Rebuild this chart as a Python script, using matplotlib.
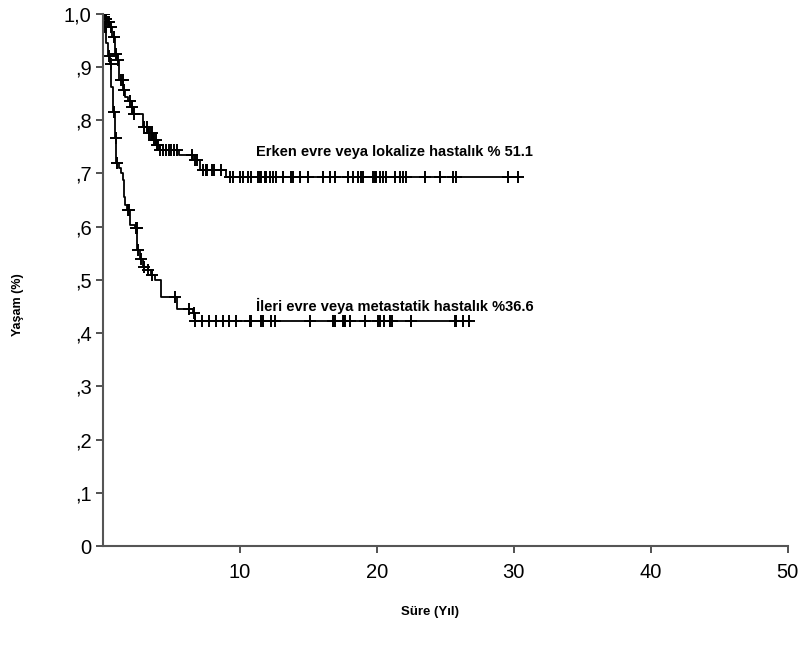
import numpy as np
import matplotlib
matplotlib.use("Agg")
import matplotlib.pyplot as plt

plt.rcParams['font.family'] = ['Liberation Sans', 'DejaVu Sans']

# Kaplan-Meier steps: early / localised disease
early_t = [0, 0.15, 0.3, 0.5, 0.7, 0.88, 1.04, 1.19, 1.48, 1.6, 1.85, 2.1, 2.2,
           2.95, 3.3, 3.67, 3.9, 4.16, 5.6, 6.6, 7.1, 9.0, 30.4]
early_s = [1.0, 0.99, 0.985, 0.975, 0.956, 0.925, 0.913, 0.875, 0.856, 0.844, 0.835,
           0.825, 0.812, 0.787, 0.775, 0.762, 0.753, 0.744, 0.734, 0.725, 0.706,
           0.694, 0.694]
early_cens = [0.05, 0.1, 0.2, 0.25, 0.35, 0.45, 0.6, 0.8, 0.95, 1.1, 1.3, 1.45,
              1.55, 2.0, 2.15, 2.3, 3.0, 3.25, 3.4, 3.5, 3.6, 3.75, 3.85, 3.95,
              4.05, 4.2, 4.4, 4.6, 4.8, 5.0, 5.2, 5.4, 6.5, 6.7, 6.9, 7.3, 7.5,
              7.6, 8.0, 8.1, 8.6,
              9.27, 9.51, 10.0, 10.24, 10.61, 10.85, 11.34, 11.46, 11.58, 11.82,
              11.95, 12.19, 12.43, 12.68, 13.16, 13.77, 13.89, 14.38, 14.98,
              16.08, 16.57, 16.93, 17.90, 18.27, 18.64, 18.88, 19.0, 19.73,
              19.85, 19.98, 20.22, 20.46, 20.71, 21.31, 21.68, 21.92, 22.17,
              23.5, 24.6, 25.58, 25.82, 29.6, 30.33]

# Kaplan-Meier steps: advanced / metastatic disease
adv_t = [0, 0.1, 0.27, 0.4, 0.5, 0.63, 0.75, 0.88, 1.0, 1.2, 1.36, 1.48, 1.55,
         1.6, 1.77, 1.97, 2.34, 2.53, 2.7, 2.94, 3.3, 3.55, 3.8, 4.23, 5.45, 6.6,
         6.7, 26.9]
adv_s = [1.0, 0.975, 0.944, 0.92, 0.906, 0.862, 0.816, 0.766, 0.719, 0.71, 0.70,
         0.687, 0.656, 0.640, 0.631, 0.603, 0.597, 0.556, 0.540, 0.525, 0.518,
         0.509, 0.500, 0.468, 0.446, 0.437, 0.423, 0.423]
adv_cens = [0.1, 0.2, 0.45, 0.6, 0.8, 0.95, 1.05, 1.85, 1.95, 2.4, 2.5, 2.6, 2.8,
            3.0, 3.3, 3.6, 5.3, 6.3, 6.65,
            6.72, 7.27, 7.75, 8.25, 8.78, 9.22, 9.71, 10.73, 10.85, 11.58, 11.7,
            12.31, 12.55, 15.11, 16.77, 16.93, 17.5, 17.59, 17.66, 18.03, 19.12,
            20.1, 20.22, 20.51, 20.95, 21.12, 22.53, 25.69, 25.82, 26.26, 26.74]

x_ticks = [10, 20, 30, 40, 50]
y_ticks = [0, 0.1, 0.2, 0.3, 0.4, 0.5, 0.6, 0.7, 0.8, 0.9, 1.0]
y_tick_labels = ['0', ',1', ',2', ',3', ',4', ',5', ',6', ',7', ',8', ',9', '1,0']

label_early = 'Erken evre veya lokalize hastalık % 51.1'
label_adv = 'İleri evre veya metastatik hastalık %36.6'


def surv_at(times, surv, pts):
    t = np.asarray(times)
    s = np.asarray(surv)
    idx = np.searchsorted(t, np.asarray(pts), side='right') - 1
    return s[np.clip(idx, 0, len(s) - 1)]


fig = plt.figure(figsize=(8.03, 6.48), dpi=100)
ax = fig.add_axes([0.128, 0.157, 0.853, 0.822])

for t, s, c in [(early_t, early_s, early_cens), (adv_t, adv_s, adv_cens)]:
    ax.step(t, s, where='post', color='black', lw=1.3)
    ax.plot(c, surv_at(t, s, c), linestyle='none', marker='+', color='black',
            markersize=9, markeredgewidth=1.4)

ax.set_xlim(0, 50)
ax.set_ylim(0, 1.0)
ax.set_xticks(x_ticks)
ax.set_xticklabels([str(v) for v in x_ticks])
ax.set_yticks(y_ticks)
ax.set_yticklabels(y_tick_labels)

for side in ('top', 'right'):
    ax.spines[side].set_visible(False)
for side in ('left', 'bottom'):
    ax.spines[side].set_color('#555555')
    ax.spines[side].set_linewidth(1.5)

ax.tick_params(axis='both', labelsize=14.5, length=5, width=1.2, color='#333333')
ax.tick_params(axis='x', pad=7)
ax.tick_params(axis='y', pad=3)
for lbl in ax.get_yticklabels():
    lbl.set_clip_on(False)

ax.text(11.2, 0.740, label_early, fontsize=10.5, fontweight='bold', va='center')
ax.text(11.2, 0.451, label_adv, fontsize=10.5, fontweight='bold', va='center')

fig.text(0.535, 0.055, 'Süre (Yıl)', fontsize=9.5, fontweight='bold',
         ha='center', va='center')
fig.text(0.023, 0.53, 'Yaşam (%)', fontsize=9, fontweight='bold',
         rotation=90, ha='center', va='center')

fig.savefig('out.png', dpi=100)
